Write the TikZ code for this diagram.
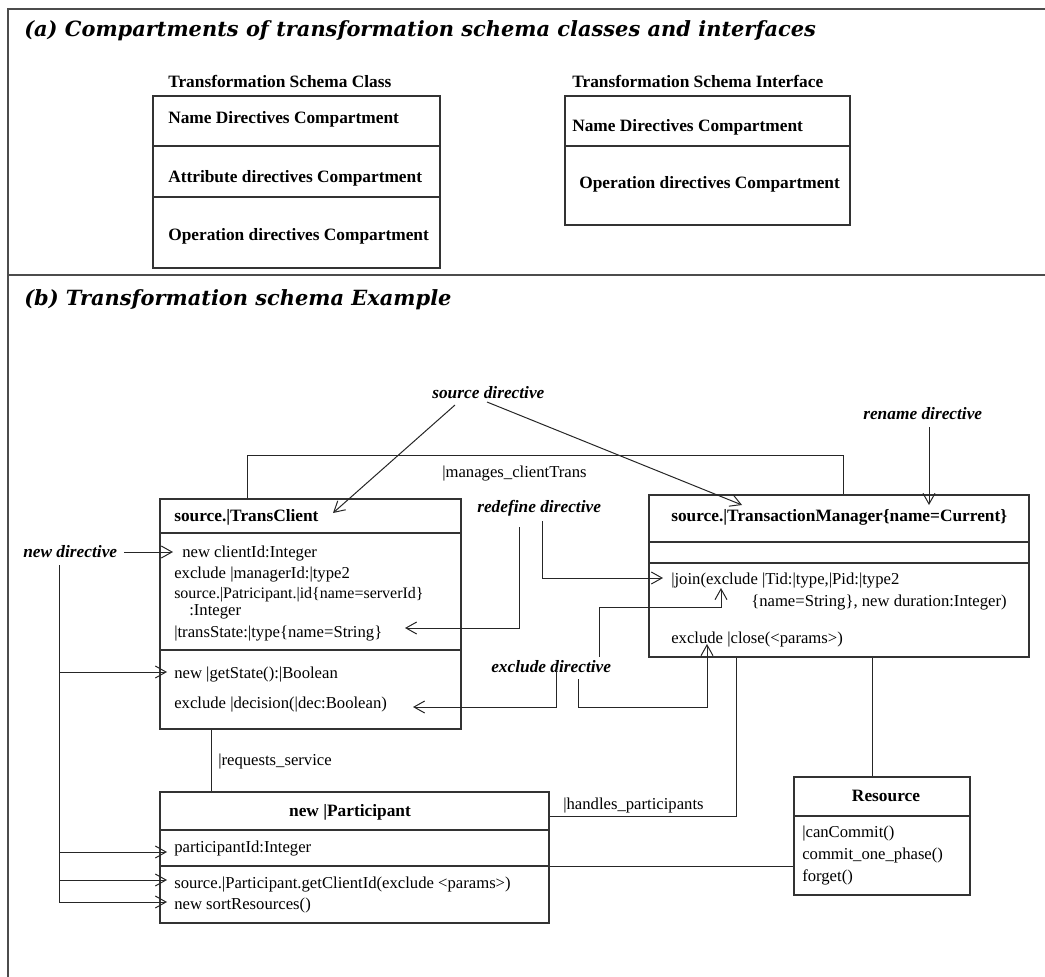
\documentclass[tikz,border=0pt]{standalone}
\usepackage{fontspec}
\setmainfont{Liberation Serif}
\newfontfamily\headfont{DejaVu Serif}
\usetikzlibrary{arrows.meta,fit}
\begin{document}
\begin{tikzpicture}[x=0.75pt,y=-0.75pt,
  frame/.style={draw=black!70,line width=1.6pt},
  umlbox/.style={draw=black!80,line width=0.9pt,inner sep=0pt},
  rule/.style={draw=black!80,line width=0.8pt},
  link/.style={draw=black!85,line width=0.75pt},
  arr/.style={link,-{Straight Barb[length=8pt,width=9pt,line width=0.75pt]}},
  body/.style={anchor=base west,inner sep=0pt,font=\fontsize{12.5}{14}\selectfont},
  cname/.style={inner sep=0pt,font=\fontsize{13}{15}\selectfont\bfseries},
  comp/.style={body,font=\fontsize{13}{15}\selectfont\bfseries},
  dir/.style={body,font=\fontsize{13}{15}\selectfont\bfseries\itshape},
  title/.style={anchor=base west,inner sep=0pt,font=\headfont\fontsize{15.7}{18}\selectfont\bfseries\itshape}]

\useasboundingbox (0,0) rectangle (1045,977);

% outer frame and section divider
\draw[frame] (1045,9) -- (8,9) -- (8,977);
\draw[frame] (8,275) -- (1045,275);

% ---------------- (a) compartments ----------------
\node[title] (ta) at (24,37) {(a) Compartments of transformation schema classes and interfaces};

\node[comp] (clsname) at (168,88) {Transformation Schema Class};
\node[umlbox,fit={(153,96) (440,268)}] (cls) {};
\draw[rule] (153,146) -- (440,146);
\draw[rule] (153,197) -- (440,197);
\node[comp] (c1) at (168,124) {Name Directives Compartment};
\node[comp] (c2) at (168,182) {Attribute directives Compartment};
\node[comp] (c3) at (168,240) {Operation directives Compartment};

\node[comp] (ifcname) at (572,88) {Transformation Schema Interface};
\node[umlbox,fit={(565,96) (850,225)}] (ifc) {};
\draw[rule] (565,146) -- (850,146);
\node[comp] (i1) at (572,132) {Name Directives Compartment};
\node[comp] (i2) at (579,188) {Operation directives Compartment};

% ---------------- (b) example ----------------
\node[title] (tb) at (24,305) {(b) Transformation schema Example};

% class boxes
\node[umlbox,fit={(160,499) (461,729)}] (tc) {};
\draw[rule] (160,533) -- (461,533);
\draw[rule] (160,650) -- (461,650);
\node[cname,anchor=base west] (tcname) at (174,521) {source.|TransClient};
\node[body] (tca1) at (182,557) {new clientId:Integer};
\node[body] (tca2) at (174,578) {exclude |managerId:|type2};
\node[body,font=\fontsize{12}{14}\selectfont] (tca3) at (174,598) {source.|Patricipant.|id\{name=serverId\}};
\node[body] (tca3b) at (189,615) {:Integer};
\node[body] (tca4) at (174,637) {|transState:|type\{name=String\}};
\node[body] (tco1) at (174,678) {new |getState():|Boolean};
\node[body] (tco2) at (174,708) {exclude |decision(|dec:Boolean)};

\node[umlbox,fit={(649,495) (1029,657)}] (tm) {};
\draw[rule] (649,542) -- (1029,542);
\draw[rule] (649,563) -- (1029,563);
\node[cname,anchor=base west] (tmname) at (671,521) {source.|TransactionManager\{name=Current\}};
\node[body] (tmo1) at (671,584) {|join(exclude |Tid:|type,|Pid:|type2};
\node[body] (tmo1b) at (751,606) {\{name=String\}, new duration:Integer)};
\node[body] (tmo2) at (671,643) {exclude |close(<params>)};

\node[umlbox,fit={(160,792) (549,923)}] (part) {};
\draw[rule] (160,830) -- (549,830);
\draw[rule] (160,866) -- (549,866);
\node[cname,anchor=base] (partname) at (350,816) {new |Participant};
\node[body] (pa1) at (174,852) {participantId:Integer};
\node[body] (po1) at (174,888) {source.|Participant.getClientId(exclude <params>)};
\node[body] (po2) at (174,909) {new sortResources()};

\node[umlbox,fit={(794,777) (970,895)}] (res) {};
\draw[rule] (794,816) -- (970,816);
\node[cname,anchor=base] (resname) at (886,801) {Resource};
\node[body] (ro1) at (802,837) {|canCommit()};
\node[body] (ro2) at (802,859) {commit\_one\_phase()};
\node[body] (ro3) at (802,881) {forget()};

% associations
\draw[link] (tc.north -| 247,0) -- ++(0,-43) -| (tm.north -| 843,0);
\node[body] (lman) at (442,477) {|manages\_clientTrans};
\draw[link] (tc.south -| 211,0) -- (part.north -| 211,0);
\node[body] (lreq) at (218,765) {|requests\_service};
\draw[link] (part.east |- 0,816) -| (tm.south -| 736,0);
\node[body] (lhan) at (563,809) {|handles\_participants};
\draw[link] (tm.south -| 872,0) -- (res.north -| 872,0);
\draw[link] (part.east |- 0,866) -- (res.west |- 0,866);

% directive labels
\node[dir] (dsrc) at (432,398) {source directive};
\node[dir] (dren) at (863,419) {rename directive};
\node[dir] (dred) at (477,512) {redefine directive};
\node[dir] (dnew) at (23,557) {new directive};
\node[dir] (dexc) at (491,672) {exclude directive};

% directive arrows
\draw[arr] (455,405) -- (333,513);
\draw[arr] (487,402) -- (742,505);
\draw[arr] (929,427) -- (929,505);
\draw[arr] (542,521) |- (663,578);
\draw[arr] (519,527) |- (405,628);
\draw[arr] (599,657) |- (721,607) -- (721,588);
\draw[arr] (556,670) |- (413,707);
\draw[arr] (578,679) |- (707,707) -- (707,644);

\draw[arr] (124,552) -- (173,552);
\coordinate (nv) at (59,565);
\draw[arr] (nv) |- (167,902);
\draw[arr] (nv |- 0,672) -- (167,672);
\draw[arr] (nv |- 0,852) -- (167,852);
\draw[arr] (nv |- 0,880) -- (167,880);

\end{tikzpicture}
\end{document}
